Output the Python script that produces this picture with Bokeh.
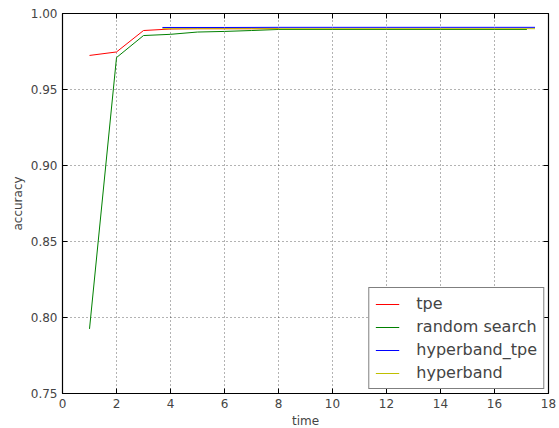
from bokeh.plotting import figure
from bokeh.models import Legend, LegendItem, LinearAxis, FixedTicker, NumeralTickFormatter, Range1d
from bokeh.embed import file_html
from bokeh.resources import INLINE

tpe_x = [1, 2, 3, 4, 5, 6, 7, 8]
tpe_y = [0.9724, 0.9747, 0.9888, 0.9898, 0.9900, 0.9900, 0.9900, 0.9900]
rs_x = [1, 2, 3, 4, 5, 6, 7, 8, 10, 12, 14, 16, 17.2]
rs_y = [0.7925, 0.9710, 0.9855, 0.9863, 0.9878, 0.9882, 0.9888, 0.9895, 0.9895, 0.9895, 0.9895, 0.9895, 0.9895]
hbt_x = [3.7, 6, 8, 10, 12, 14, 16, 17.5]
hbt_y = [0.9908, 0.9908, 0.9909, 0.9909, 0.9909, 0.9909, 0.9909, 0.9909]
hb_x = [3.7, 6, 8, 10, 12, 14, 16, 17.5]
hb_y = [0.9900, 0.9900, 0.9900, 0.9900, 0.9900, 0.9900, 0.9900, 0.9900]
x_ticks = [0, 2, 4, 6, 8, 10, 12, 14, 16, 18]
y_ticks = [0.75, 0.80, 0.85, 0.90, 0.95, 1.00]

FONT = "DejaVu Sans"
p = figure(width=559, height=426, frame_width=486, frame_height=380,
           output_backend="svg", toolbar_location=None,
           x_range=Range1d(0, 18), y_range=Range1d(0.75, 1.0),
           min_border_left=62, min_border_right=11, min_border_top=13, min_border_bottom=33)
p.outline_line_color = "black"
p.outline_line_width = 1.2

r1 = p.line(tpe_x, tpe_y, color="#ff0000", line_width=1)
r2 = p.line(rs_x, rs_y, color="#008000", line_width=1)
r3 = p.line(hbt_x, hbt_y, color="#0000ff", line_width=1)
r4 = p.line(hb_x, hb_y, color="#bfbf00", line_width=1)

for ax in [p.xaxis[0], p.yaxis[0]]:
    ax.major_tick_in = 5
    ax.major_tick_out = 0
    ax.minor_tick_in = 0
    ax.minor_tick_out = 0
    ax.axis_line_color = None
    ax.major_label_text_font = FONT
    ax.major_label_text_font_size = "12px"
    ax.axis_label_text_font = FONT
    ax.axis_label_text_font_size = "12px"
    ax.axis_label_text_font_style = "normal"
    ax.major_label_standoff = 5
    ax.axis_label_standoff = 3

p.xaxis[0].ticker = FixedTicker(ticks=x_ticks)
p.yaxis[0].ticker = FixedTicker(ticks=y_ticks)
p.yaxis[0].formatter = NumeralTickFormatter(format="0.00")
p.xaxis[0].axis_label = "time"
p.yaxis[0].axis_label = "accuracy"

top = LinearAxis(ticker=FixedTicker(ticks=x_ticks), major_tick_in=5, major_tick_out=0,
                 minor_tick_in=0, minor_tick_out=0, axis_line_color=None,
                 major_label_text_color=None, major_label_text_font_size="1px",
                 major_label_standoff=0)
right = LinearAxis(ticker=FixedTicker(ticks=y_ticks), major_tick_in=5, major_tick_out=0,
                   minor_tick_in=0, minor_tick_out=0, axis_line_color=None,
                   major_label_text_color=None, major_label_text_font_size="1px",
                   major_label_standoff=0)
p.add_layout(top, "above")
p.add_layout(right, "right")

p.xgrid.ticker = FixedTicker(ticks=x_ticks)
p.ygrid.ticker = FixedTicker(ticks=y_ticks)
for g in [p.xgrid[0], p.ygrid[0]]:
    g.grid_line_color = "black"
    g.grid_line_alpha = 0.6
    g.grid_line_dash = "1 3"

legend = Legend(items=[LegendItem(label="tpe", renderers=[r1]),
                       LegendItem(label="random search", renderers=[r2]),
                       LegendItem(label="hyperband_tpe", renderers=[r3]),
                       LegendItem(label="hyperband", renderers=[r4])],
                location="bottom_right")
legend.label_text_font = FONT
legend.label_text_font_size = "16px"
legend.border_line_color = "black"
legend.border_line_width = 1
legend.background_fill_alpha = 1
legend.glyph_width = 24
legend.glyph_height = 16
legend.label_standoff = 17
legend.spacing = 4
legend.padding = 6
legend.margin = 4
legend.label_height = 16
p.add_layout(legend)

open("out.html", "w").write(file_html(p, INLINE))
